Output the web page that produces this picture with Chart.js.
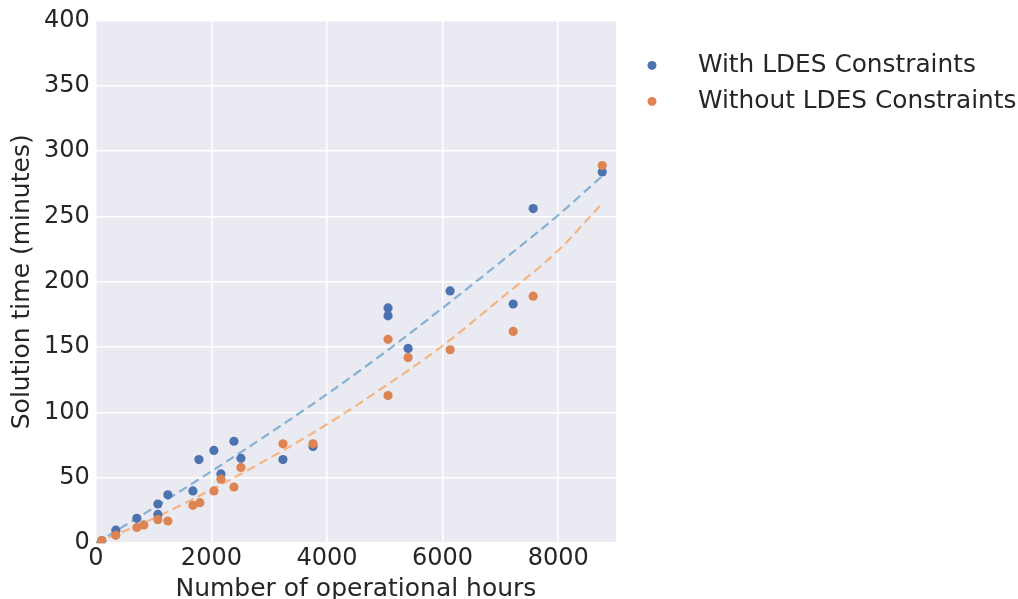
<!DOCTYPE html>
<html>
<head>
<meta charset="utf-8">
<script src="https://cdn.jsdelivr.net/npm/chart.js@4.4.1/dist/chart.umd.min.js"></script>
<style>
  html, body { margin: 0; padding: 0; background: #fff; }
  #wrap { width: 1018px; height: 599px; }
</style>
</head>
<body>
<div id="wrap"><canvas id="solve-time" width="1018" height="599"></canvas></div>
<script>
// --measured runs (hours, minutes)
var withHours = [104, 346, 710, 1074, 1074, 1247, 1680, 1784, 2043, 2165, 2390, 2511, 3238, 3758, 5056, 5056, 5403, 6130, 7221, 7567, 8762];
var withMinutes = [2, 10, 19, 30, 22, 37, 40, 64, 71, 53, 78, 65, 64, 74, 180, 174, 149, 193, 183, 256, 284];
var withoutHours = [104, 346, 710, 831, 1074, 1247, 1680, 1800, 2043, 2165, 2390, 2511, 3238, 3758, 5056, 5056, 5403, 6130, 7221, 7567, 8762];
var withoutMinutes = [2, 6, 12, 14, 18, 17, 29, 31, 40, 49, 43, 58, 76, 76, 156, 113, 142, 148, 162, 189, 289];

// --fitted trend curves
var fitHours = [0, 1000, 2000, 3000, 4000, 5000, 6000, 7000, 8000, 8762];
var fitWith = [0, 27, 55, 84, 114, 146, 180, 215, 251, 281];
var fitWithout = [0, 19, 41, 65, 91, 120, 151, 187, 224, 260];

var seriesLabels = ['With LDES Constraints', 'Without LDES Constraints'];
var xTicks = [0, 2000, 4000, 6000, 8000];
var yTicks = [0, 50, 100, 150, 200, 250, 300, 350, 400];

function pts(xs, ys) {
  return xs.map(function(x, i) { return {x: x, y: ys[i]}; });
}

var textColor = '#262626';
var font = 'DejaVu Sans';

// plot background like seaborn darkgrid
var areaBg = {
  id: 'areaBg',
  beforeDraw: function(chart) {
    var a = chart.chartArea, ctx = chart.ctx;
    ctx.save();
    ctx.fillStyle = '#EAEAF2';
    ctx.fillRect(a.left, a.top, a.right - a.left, a.bottom - a.top);
    ctx.restore();
  }
};

// legend drawn outside the axes, on the right
var sideLegend = {
  id: 'sideLegend',
  afterDraw: function(chart) {
    var ctx = chart.ctx, a = chart.chartArea;
    ctx.save();
    ctx.font = '24.8px ' + font;
    ctx.textBaseline = 'middle';
    [0, 1].forEach(function(i) {
      var ds = chart.data.datasets[i];
      var y = a.top + 45 + i * 36;
      ctx.beginPath();
      ctx.arc(a.right + 36, y, 4.5, 0, Math.PI * 2);
      ctx.fillStyle = ds.backgroundColor;
      ctx.fill();
      ctx.fillStyle = textColor;
      ctx.fillText(ds.label, a.right + 82, y);
    });
    ctx.restore();
  }
};

new Chart(document.getElementById('solve-time'), {
  type: 'scatter',
  data: {
    datasets: [
      {label: seriesLabels[0], data: pts(withHours, withMinutes), backgroundColor: '#4C72B0', borderColor: '#4C72B0', pointRadius: 4.6, pointBorderWidth: 0, order: 1},
      {label: seriesLabels[1], data: pts(withoutHours, withoutMinutes), backgroundColor: '#DD8452', borderColor: '#DD8452', pointRadius: 4.6, pointBorderWidth: 0, order: 0},
      {type: 'line', label: 'fit with', data: pts(fitHours, fitWith), borderColor: 'rgba(31,119,180,0.5)', borderWidth: 2.2, borderDash: [9, 5], pointRadius: 0, fill: false, cubicInterpolationMode: 'monotone', order: 3},
      {type: 'line', label: 'fit without', data: pts(fitHours, fitWithout), borderColor: 'rgba(255,127,14,0.5)', borderWidth: 2.2, borderDash: [9, 5], pointRadius: 0, fill: false, cubicInterpolationMode: 'monotone', order: 3}
    ]
  },
  options: {
    responsive: false,
    animation: false,
    layout: { padding: { top: 13, right: 402, left: 7, bottom: -5 } },
    plugins: {
      legend: { display: false },
      tooltip: { enabled: false }
    },
    scales: {
      x: {
        type: 'linear',
        min: 0,
        max: 9000,
        border: { display: false },
        afterBuildTicks: function(axis) {
          axis.ticks = xTicks.map(function(v) { return {value: v}; });
        },
        grid: { color: '#ffffff', lineWidth: 1.5, drawTicks: false },
        ticks: {
          color: textColor,
          padding: 1,
          maxRotation: 0,
          autoSkip: false,
          font: { family: font, size: 24 },
          callback: function(v) { return String(v); }
        },
        title: { display: true, text: 'Number of operational hours', color: textColor, font: { family: font, size: 25 }, padding: { top: 0, bottom: 0 } }
      },
      y: {
        min: 0,
        max: 400,
        border: { display: false },
        afterBuildTicks: function(axis) {
          axis.ticks = yTicks.map(function(v) { return {value: v}; });
        },
        grid: { color: '#ffffff', lineWidth: 1.5, drawTicks: false },
        ticks: {
          color: textColor,
          padding: 6,
          autoSkip: false,
          font: { family: font, size: 24 }
        },
        title: { display: true, text: 'Solution time (minutes)', color: textColor, font: { family: font, size: 25 }, padding: { top: 0, bottom: 1 } }
      }
    }
  },
  plugins: [areaBg, sideLegend]
});
</script>
</body>
</html>
